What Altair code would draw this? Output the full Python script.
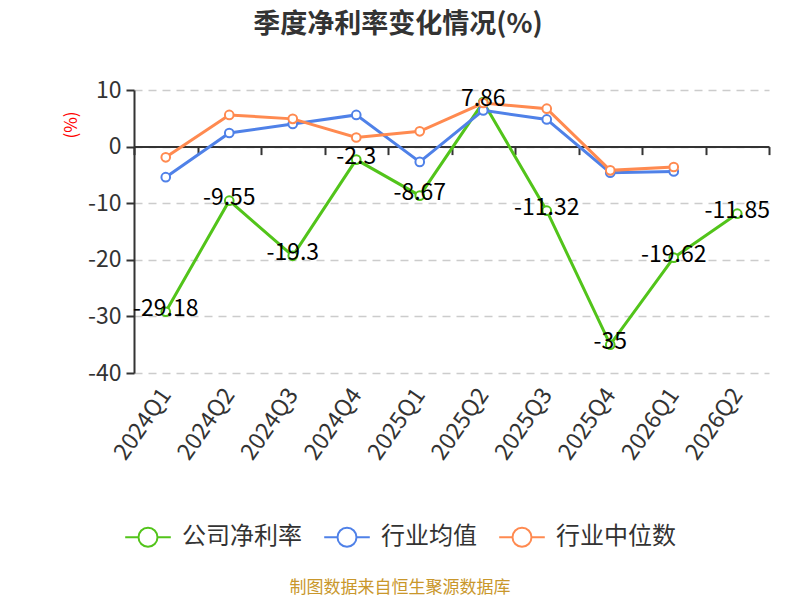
import altair as alt
import pandas as pd

quarters = ["2024Q1", "2024Q2", "2024Q3", "2024Q4", "2025Q1",
            "2025Q2", "2025Q3", "2025Q4", "2026Q1", "2026Q2"]
company = [-29.18, -9.55, -19.3, -2.3, -8.67, 7.86, -11.32, -35, -19.62, -11.85]
industry_mean = [-5.4, 2.4, 4.0, 5.6, -2.7, 6.4, 4.8, -4.6, -4.4, None]
industry_median = [-1.9, 5.6, 4.9, 1.6, 2.7, 7.7, 6.7, -4.2, -3.6, None]

series_names = ["公司净利率", "行业均值", "行业中位数"]
series_colors = ["#52c41a", "#4f81e8", "#ff8a50"]

rows = []
for name, vals in zip(series_names, [company, industry_mean, industry_median]):
    for q, v in zip(quarters, vals):
        if v is not None:
            rows.append({"quarter": q, "series": name, "value": v, "label": f"{v:g}"})
df = pd.DataFrame(rows)

FONT = "Noto Sans CJK SC"
W, H = 635, 283
zero_y = H * 10 / 50  # pixel position of 0 on the y scale

x_enc = alt.X(
    "quarter:N", sort=quarters,
    scale=alt.Scale(type="band", domain=quarters, paddingInner=0, paddingOuter=0),
    axis=alt.Axis(
        title=None, offset=-(H - zero_y), tickBand="extent", tickSize=8,
        domainColor="#333", tickColor="#333", domainWidth=2, tickWidth=2,
        labelAngle=-55, labelAlign="right", labelBaseline="middle",
        labelPadding=236, labelFontSize=23, labelColor="#333", labelFont=FONT,
    ),
)
y_enc = alt.Y(
    "value:Q",
    scale=alt.Scale(domain=[-40, 10], nice=False),
    axis=alt.Axis(
        title=None, values=[10, 0, -10, -20, -30, -40], tickSize=8,
        domainColor="#333", tickColor="#333", domainWidth=2, tickWidth=2,
        labelFontSize=23, labelColor="#333", labelFont=FONT, labelPadding=5,
        labelExpr="toString(datum.value)",
        gridDash=[8, 6], gridColor="#cccccc", gridWidth=1.5,
    ),
)
color_enc = alt.Color(
    "series:N",
    scale=alt.Scale(domain=series_names, range=series_colors),
    legend=alt.Legend(
        title=None, orient="none", direction="horizontal",
        legendX=2, legendY=435,
        symbolType="M-2.4,0L-1,0M1,0L2.4,0M1,0A1,1,0,1,1,-1,0A1,1,0,1,1,1,0",
        symbolSize=361, symbolStrokeWidth=2, symbolFillColor="white",
        labelFontSize=24, labelColor="#333", labelFont=FONT,
        labelOffset=22, columnPadding=18,
    ),
)

base = alt.Chart(df).encode(x=x_enc, y=y_enc)

lines = base.mark_line(strokeWidth=3).encode(color=color_enc)
points = base.mark_point(filled=False, fill="white", fillOpacity=1, size=75,
                         strokeWidth=2, opacity=1).encode(color=color_enc)
labels = base.transform_filter(alt.datum.series == "公司净利率").mark_text(
    fontSize=23, font=FONT, color="#000", baseline="middle", dy=-3
).encode(text="label:N")

deco = pd.DataFrame({"k": [0]})
title = alt.Chart(deco).mark_text(
    text="季度净利率变化情况(%)", fontSize=27, fontWeight="bold", font=FONT, color="#333"
).encode(x=alt.value(264), y=alt.value(-65))
unit = alt.Chart(deco).mark_text(
    text="(%)", fontSize=17, font=FONT, color="red", angle=270
).encode(x=alt.value(-62), y=alt.value(35))
source = alt.Chart(deco).mark_text(
    text="制图数据来自恒生聚源数据库", fontSize=17, font=FONT, color="#c9972b"
).encode(x=alt.value(266), y=alt.value(498))

chart = alt.layer(lines, points, labels, title, unit, source).properties(
    width=W, height=H,
    autosize=alt.AutoSizeParams(type="none"),
    padding={"left": 126, "top": 82, "right": 20, "bottom": 227},
).configure_view(strokeWidth=0)

chart.save("out.html", embed_options={"renderer": "svg", "actions": False})
